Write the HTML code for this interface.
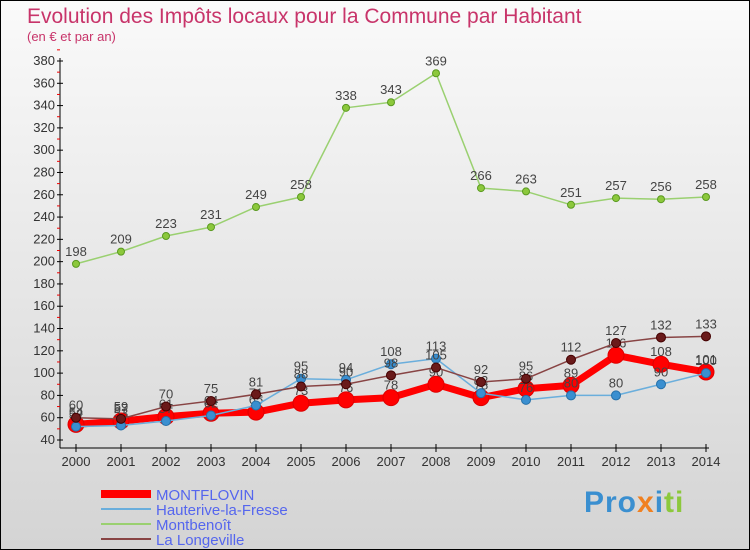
<!DOCTYPE html>
<html><head><meta charset="utf-8"><style>
body{margin:0;width:750px;height:550px;overflow:hidden;font-family:"Liberation Sans",sans-serif}
#wrap{position:relative;width:748px;height:548px;border:1px solid #000;background:linear-gradient(#fafafa,#d4d4d4)}
.t{position:absolute;left:26px;top:4px;color:#c8346a;font-size:21px;font-weight:normal}
.s{position:absolute;left:26px;top:28px;color:#c8346a;font-size:13px}
</style></head><body>
<div id="wrap">
<div class="t">Evolution des Impôts locaux pour la Commune par Habitant</div>
<div class="s">(en € et par an)</div>
<svg id="svg" width="748" height="548" style="position:absolute;left:0;top:0"></svg>
<div style="position:absolute;left:583px;top:485px;font-size:30px;font-weight:bold;letter-spacing:1px"><span style="color:#3a8fd0">Pro</span><span style="color:#f08020">x</span><span style="color:#3a8fd0">i</span><span style="color:#8cc83c">ti</span></div>
</div>
<script>
const years=[2000,2001,2002,2003,2004,2005,2006,2007,2008,2009,2010,2011,2012,2013,2014];
const yTicks=[40,60,80,100,120,140,160,180,200,220,240,260,280,300,320,340,360,380];
const montflovin=[54,57,61,64,65,73,76,78,90,78,86,89,116,108,101];
const hauterive=[52,53,57,62,71,95,94,108,113,82,76,80,80,90,100];
const montbenoit=[198,209,223,231,249,258,338,343,369,266,263,251,257,256,258];
const longeville=[60,59,70,75,81,88,90,98,105,92,95,112,127,132,133];
const seriesNames=["MONTFLOVIN","Hauterive-la-Fresse","Montbenoît","La Longeville"];
const NS="http://www.w3.org/2000/svg";
const svg=document.getElementById('svg');
const x=i=>75+i*45;
const y=v=>439-(v-40)*(379/340);
function el(t,a,p){const e=document.createElementNS(NS,t);for(const k in a)e.setAttribute(k,a[k]);(p||svg).appendChild(e);return e;}
const ax=el('line',{x1:59,y1:57,x2:59,y2:447,stroke:'#000'});

const bx=el('line',{x1:59,y1:447,x2:708,y2:447,stroke:'#000'});

yTicks.forEach(v=>{
 el('line',{x1:56,x2:62,y1:y(v),y2:y(v),stroke:'#000'});
 el('line',{x1:56,x2:59,y1:y(v+10),y2:y(v+10),stroke:'#e00'});
 const t=el('text',{x:54,y:y(v)+4,'text-anchor':'end','font-size':13,fill:'#333'});t.textContent=v;
 
});
years.forEach((yr,i)=>{
 el('line',{x1:x(i),x2:x(i),y1:443,y2:451,stroke:'#000'});
 const t=el('text',{x:x(i),y:465,'text-anchor':'middle','font-size':13,fill:'#333'});t.textContent=yr;
 
});
function series(data,color,w,r,name,fill,stroke){
 const g=el('g',{});
 
 el('polyline',{points:data.map((v,i)=>x(i)+','+y(v)).join(' '),fill:'none',stroke:color,'stroke-width':w,'stroke-linejoin':'round'},g);
 data.forEach((v,i)=>{
  const c=el('circle',{cx:x(i),cy:y(v),r:r,fill:fill,stroke:stroke,'stroke-width':1},g);
  
  const t=el('text',{x:x(i),y:y(v)-8,'text-anchor':'middle','font-size':13,fill:'#444'},g);t.textContent=v;
 });
}
series(montflovin,'#f00',7,8,'montflovin-series','#f00','#d00');
series(hauterive,'#6aaedc',1.5,4.5,'hauterive-series','#3a8fd0','#2670a8');
series(montbenoit,'#9ad070',1.5,3.5,'montbenoit-series','#8cc83c','#5a9a20');
series(longeville,'#884444',1.5,4.5,'longeville-series','#6a1a1a','#400');
const legend=[{c:'#f00',w:8},{c:'#6aaedc',w:2},{c:'#9ad070',w:2},{c:'#884444',w:2}];
legend.forEach((l,i)=>{
 const g=el('g',{});
 
 const yy=493+i*15;
 el('line',{x1:100,x2:150,y1:yy,y2:yy,stroke:l.c,'stroke-width':l.w},g);
 const t=el('text',{x:155,y:yy+6,'font-size':15,fill:'#5566ee'},g);t.textContent=seriesNames[i];
});
</script>
</body></html>
